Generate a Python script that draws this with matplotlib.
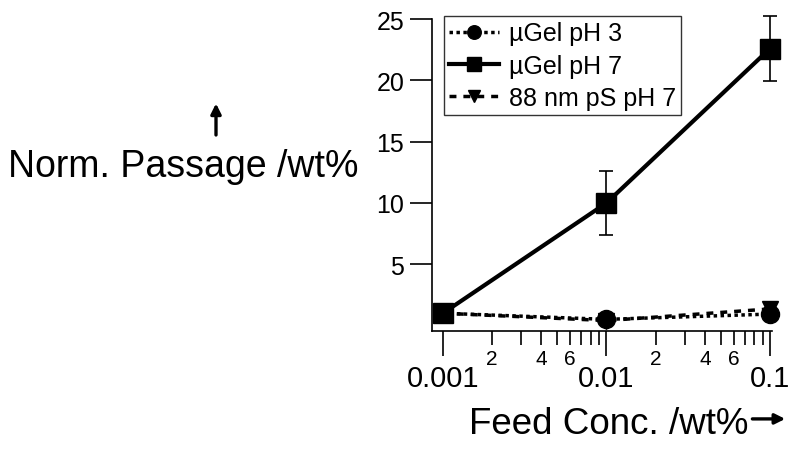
import numpy as np
import matplotlib; matplotlib.use("Agg"); import matplotlib.pyplot as plt
from matplotlib.ticker import FixedLocator, FuncFormatter

plt.rcParams["font.family"] = ["Liberation Sans", "DejaVu Sans"]

conc = [0.001, 0.01, 0.1]
gel_ph3 = [1.0, 0.5, 0.93]
gel_ph7 = [1.0, 10.0, 22.6]
gel_ph7_err = [0.0, 2.6, 2.65]
ps_ph7 = [1.0, 0.4, 1.35]

fig = plt.figure(figsize=(8, 4.52), dpi=100)
ax = fig.add_axes([0.54, 0.2655, 0.425, 0.69])

h3, = ax.plot(conc, gel_ph3, ls=(0, (1, 1)), lw=2.5, color="black", marker="o", ms=13,
              label="µGel pH 3", clip_on=False, zorder=3)
ax.errorbar(conc, gel_ph7, yerr=gel_ph7_err, fmt="none", ecolor="black",
            elinewidth=1.2, capsize=5, capthick=1.2, clip_on=False)
h7, = ax.plot(conc, gel_ph7, color="black", lw=3, marker="s", ms=14, label="µGel pH 7",
              clip_on=False, zorder=4)
hs, = ax.plot(conc, ps_ph7, ls=(0, (2, 2)), lw=2.5, color="black", marker="v", ms=12,
              label="88 nm pS pH 7", clip_on=False, zorder=3)

ax.set_xscale("log")
ax.set_xlim(0.000857, 0.1028)
ax.set_ylim(-0.45, 25)
ax.spines[["top", "right"]].set_visible(False)
for s in ("left", "bottom"):
    ax.spines[s].set_linewidth(1.2)

ax.yaxis.set_major_locator(FixedLocator([5, 10, 15, 20, 25]))
ax.xaxis.set_major_locator(FixedLocator(conc))
ax.xaxis.set_major_formatter(FuncFormatter(lambda v, p: f"{v:g}"))
minors = [m * d for d in (0.001, 0.01) for m in range(2, 10)]
ax.xaxis.set_minor_locator(FixedLocator(minors))
def minor_fmt(v, p):
    m = round(v / 10 ** np.floor(np.log10(v) + 1e-9))
    return str(m) if m in (2, 4, 6) else ""
ax.xaxis.set_minor_formatter(FuncFormatter(minor_fmt))

ax.tick_params(axis="y", which="major", direction="out", length=16, width=1.2, labelsize=18, pad=4)
ax.tick_params(axis="x", which="major", direction="out", length=18, width=1.2, labelsize=21, pad=6)
ax.tick_params(axis="x", which="minor", direction="out", length=10, width=1.2, labelsize=15, pad=3)

leg = ax.legend(handles=[h3, h7, hs], loc="upper left", bbox_to_anchor=(0.02, 1.025), fontsize=18,
                frameon=True, fancybox=False, edgecolor="black", handlelength=2.0,
                handletextpad=0.4, borderpad=0.2, labelspacing=0.33, markerscale=0.75,
                borderaxespad=0.2)
leg.get_frame().set_linewidth(1.0)

fig.text(0.01, 0.63, "Norm. Passage /wt%", fontsize=27, va="center", ha="left")
fig.text(0.935, 0.06, "Feed Conc. /wt%", fontsize=26.5, ha="right", va="center")
arrow = dict(arrowstyle="-|>,head_length=0.6,head_width=0.3", lw=2.4, color="black")
ax.annotate("", xy=(0.27, 0.775), xytext=(0.27, 0.693), xycoords="figure fraction", arrowprops=arrow)
ax.annotate("", xy=(0.985, 0.071), xytext=(0.937, 0.071), xycoords="figure fraction", arrowprops=arrow)

fig.savefig("out.png", dpi=100)
